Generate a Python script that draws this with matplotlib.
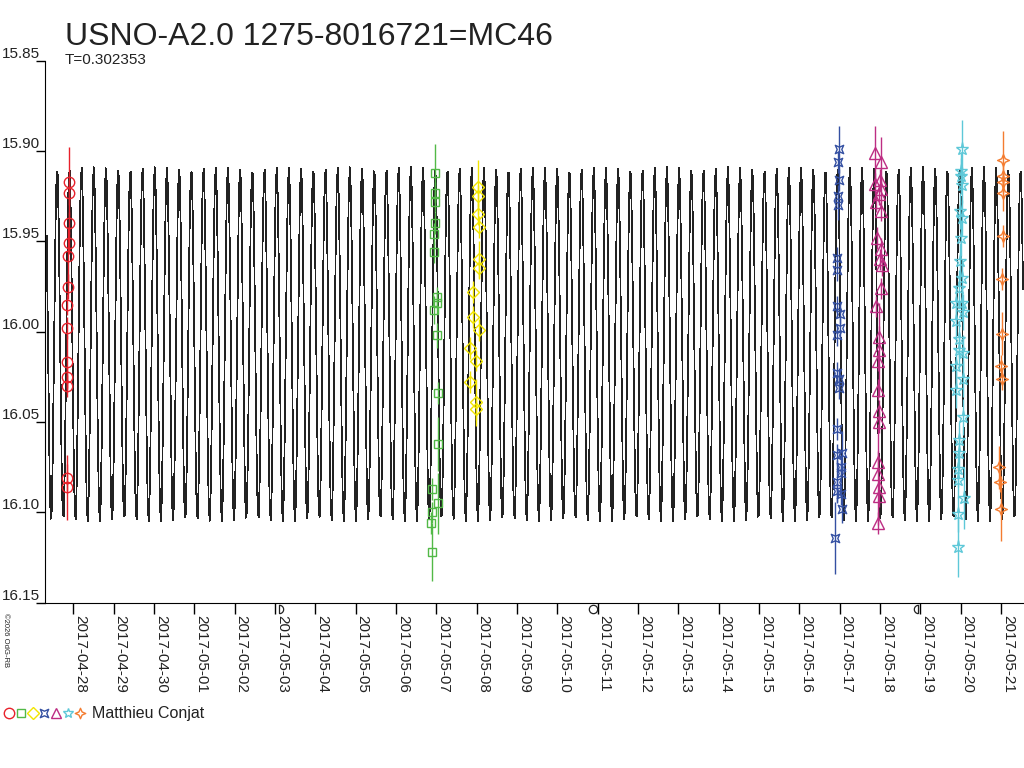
import numpy as np
import matplotlib
matplotlib.use('Agg')
import matplotlib.pyplot as plt
import matplotlib.dates as mdates
import matplotlib.transforms as mtransforms
from matplotlib.path import Path
from matplotlib.lines import Line2D
from datetime import datetime

plt.rcParams['font.family'] = ['Liberation Sans', 'DejaVu Sans']

title = 'USNO-A2.0 1275-8016721=MC46'
period = 0.302353
observer = 'Matthieu Conjat'
credit = '\u00a92026 OdG-RB'

# times are days from 2017-04-28 00:00 UT
base = mdates.date2num(datetime(2017, 4, 28))

# model light curve, parameters
mag_mean = 16.007
mag_amp = 0.098
t_max = -0.099
model_start, model_end, model_step = -0.66, 23.55, 0.0248

red_t = [-0.099, -0.099, -0.099, -0.099, -0.139, -0.139, -0.156, -0.156, -0.156, -0.164, -0.164, -0.164, -0.164]
red_mag = [15.917, 15.923, 15.940, 15.951, 15.958, 15.975, 15.985, 15.998, 16.017, 16.025, 16.030, 16.081, 16.086]
red_err = [0.019, 0.007, 0.006, 0.006, 0.016, 0.007, 0.006, 0.006, 0.015, 0.006, 0.006, 0.008, 0.018]

green_t = [8.969, 8.969, 8.969, 8.969, 8.936, 8.936, 9.011, 9.011, 8.944, 9.011, 9.036, 9.036, 8.887, 9.050, 8.887, 8.869, 8.887]
green_mag = [15.912, 15.923, 15.928, 15.940, 15.946, 15.956, 15.981, 15.984, 15.988, 16.002, 16.034, 16.062, 16.087, 16.095, 16.100, 16.106, 16.122]
green_err = [0.016, 0.006, 0.006, 0.006, 0.006, 0.006, 0.006, 0.006, 0.008, 0.007, 0.006, 0.015, 0.006, 0.017, 0.006, 0.006, 0.016]

yellow_t = [10.042, 10.042, 10.027, 10.059, 10.067, 10.067, 9.918, 9.918, 10.059, 9.844, 9.978, 9.836, 9.993, 9.993]
yellow_mag = [15.920, 15.925, 15.935, 15.942, 15.960, 15.965, 15.978, 15.992, 15.999, 16.009, 16.016, 16.028, 16.039, 16.043]
yellow_err = [0.015, 0.006, 0.006, 0.006, 0.010, 0.006, 0.006, 0.006, 0.006, 0.006, 0.006, 0.006, 0.013, 0.006]

blue_t = [18.986, 18.968, 18.986, 18.968, 18.968, 18.944, 18.929, 18.929, 19.011, 19.011, 18.929, 18.944,
          18.986, 18.986, 18.929, 19.068, 18.929, 19.028, 19.028, 18.929, 18.929, 19.028, 19.068, 18.887]
blue_mag = [15.899, 15.906, 15.916, 15.925, 15.930, 15.959, 15.966, 15.986, 15.990, 15.998, 16.002, 16.023,
            16.026, 16.031, 16.054, 16.067, 16.068, 16.075, 16.078, 16.083, 16.088, 16.090, 16.098, 16.114]
blue_err = [0.013, 0.006, 0.006, 0.006, 0.008, 0.006, 0.006, 0.006, 0.006, 0.006, 0.006, 0.006,
            0.006, 0.006, 0.006, 0.012, 0.006, 0.006, 0.006, 0.012, 0.006, 0.006, 0.008, 0.020]

magenta_t = [19.878, 20.020, 19.878, 20.002, 20.027, 19.985, 19.903, 20.027, 19.920, 20.020, 20.002, 20.045, 20.027,
             19.903, 19.985, 19.985, 19.945, 19.945, 19.985, 19.985, 19.960, 19.945, 19.978, 19.978, 19.960]
magenta_mag = [15.901, 15.906, 15.918, 15.916, 15.921, 15.924, 15.928, 15.933, 15.948, 15.954, 15.960, 15.963, 15.976,
               15.986, 16.003, 16.010, 16.016, 16.032, 16.044, 16.050, 16.072, 16.079, 16.086, 16.091, 16.106]
magenta_err = [0.015, 0.014, 0.006, 0.006, 0.006, 0.006, 0.006, 0.006, 0.006, 0.006, 0.006, 0.006, 0.006,
               0.006, 0.006, 0.026, 0.006, 0.006, 0.006, 0.006, 0.006, 0.028, 0.006, 0.006, 0.006]

cyan_t = [22.028, 22.003, 22.003, 22.028, 21.986, 22.028, 22.003, 21.986, 22.028, 21.969, 21.887, 22.043, 22.053, 21.887,
          21.969, 21.969, 22.053, 21.887, 22.068, 21.887, 22.068, 21.969, 21.969, 21.944, 21.944, 22.085, 21.944, 21.944]
cyan_mag = [15.899, 15.911, 15.914, 15.919, 15.933, 15.937, 15.948, 15.961, 15.970, 15.976, 15.984, 15.984, 15.989, 15.994,
            16.004, 16.010, 16.012, 16.019, 16.026, 16.032, 16.047, 16.060, 16.067, 16.076, 16.082, 16.092, 16.101, 16.119]
cyan_err = [0.016, 0.010, 0.010, 0.010, 0.010, 0.010, 0.010, 0.010, 0.010, 0.010, 0.010, 0.010, 0.010, 0.010,
            0.010, 0.010, 0.010, 0.010, 0.010, 0.010, 0.010, 0.010, 0.010, 0.010, 0.010, 0.017, 0.010, 0.017]

orange_t = [23.060, 23.060, 23.060, 23.060, 23.045, 23.020, 23.020, 23.003, 23.020, 22.961, 22.978, 22.995]
orange_mag = [15.905, 15.914, 15.917, 15.923, 15.947, 15.971, 16.001, 16.019, 16.026, 16.075, 16.083, 16.098]
orange_err = [0.016, 0.006, 0.006, 0.010, 0.006, 0.006, 0.012, 0.006, 0.006, 0.012, 0.006, 0.018]

# moon phases (first quarter, full, last quarter), days from 2017-04-28
moon_t = [5.11, 12.89, 20.95]

# marker shapes
concave_sq = Path([(-1, -1), (0, -0.55), (1, -1), (0.55, 0), (1, 1), (0, 0.55), (-1, 1), (-0.55, 0), (-1, -1)],
                  [1, 2, 2, 2, 2, 2, 2, 2, 79])
sparkle = Path([(0, 1), (0.3, 0.3), (1, 0), (0.3, -0.3), (0, -1), (-0.3, -0.3), (-1, 0), (-0.3, 0.3), (0, 1)],
               [1, 2, 2, 2, 2, 2, 2, 2, 79])
ang = np.linspace(-np.pi / 2, np.pi / 2, 20)
half_r = Path(np.column_stack([np.cos(ang), np.sin(ang)]).tolist() + [[0, -1]])
half_l = Path(np.column_stack([-np.cos(ang), np.sin(ang)]).tolist() + [[0, -1]])

nights = [
    (red_t, red_mag, red_err, '#e8212b', 'o', 7.5),
    (green_t, green_mag, green_err, '#52b947', 's', 5.5),
    (yellow_t, yellow_mag, yellow_err, '#f2e500', 'D', 6.0),
    (blue_t, blue_mag, blue_err, '#3450a2', concave_sq, 6.0),
    (magenta_t, magenta_mag, magenta_err, '#bd2d83', '^', 8.0),
    (cyan_t, cyan_mag, cyan_err, '#5ec8d8', '*', 9.5),
    (orange_t, orange_mag, orange_err, '#f47c30', sparkle, 8.5),
]

fig = plt.figure(figsize=(10.24, 7.68), dpi=100)
ax = fig.add_axes([45 / 1024, 1 - 602.7 / 768, 1 - 45 / 1024, (602.7 - 60.7) / 768])

tm = np.arange(model_start, model_end, model_step)
mm = mag_mean - mag_amp * np.cos(2 * np.pi * (tm - t_max) / period)
ax.plot(base + tm, mm, color='#222222', lw=0.55, antialiased=False, zorder=1)

for t, m, e, c, mk, ms in nights:
    x = base + np.array(t)
    ax.errorbar(x, m, yerr=e, fmt='none', ecolor=c, elinewidth=1, capsize=0, zorder=2)
    ax.plot(x, m, ls='none', marker=mk, ms=ms, mfc='none', mec=c, mew=1, zorder=3)

ax.set_ylim(16.15, 15.85)
ax.set_xlim(base - 0.702, base + 23.57)
ax.set_yticks([15.85, 15.90, 15.95, 16.00, 16.05, 16.10, 16.15])
ax.set_yticklabels(['%.2f' % v for v in [15.85, 15.90, 15.95, 16.00, 16.05, 16.10, 16.15]])
ax.xaxis.set_major_locator(mdates.DayLocator())
ax.xaxis.set_major_formatter(mdates.DateFormatter('%Y-%m-%d'))
ax.tick_params(axis='x', direction='out', length=8, width=1, pad=1, labelsize=11, labelcolor='#222222')
ax.tick_params(axis='y', direction='out', length=6.5, width=1, pad=-3, labelsize=11, labelcolor='#222222')
for lab in ax.get_xticklabels():
    lab.set_rotation(-90)
    lab.set_ha('left')
for lab in ax.get_yticklabels():
    lab.set_va('bottom')
for s in ['top', 'right']:
    ax.spines[s].set_visible(False)

trans = mtransforms.blended_transform_factory(ax.transData, ax.transAxes)
for t, mk in zip(moon_t, [half_r, 'o', half_l]):
    ax.plot(base + t, -0.011, marker=mk, ms=6, mfc='none', mec='#222222', mew=0.9,
            transform=trans, clip_on=False)

fig.text(65 / 1024, 1 - 45 / 768, title, fontsize=23, color='#222222', va='baseline', ha='left')
fig.text(65 / 1024, 1 - 64 / 768, 'T=%g' % period, fontsize=11, color='#222222', va='baseline', ha='left')
fig.text(0.002, 1 - 613 / 768, credit, fontsize=5.5, rotation=-90, va='top', ha='left', color='#222222')

leg_x = [9.3, 21, 33, 44.3, 56, 68.3, 80]
for lx, (t, m, e, c, mk, ms) in zip(leg_x, nights):
    fig.add_artist(Line2D([lx / 1024], [1 - 713.3 / 768], transform=fig.transFigure, ls='none',
                          marker=mk, ms=min(ms, 7.5), mfc='none', mec=c, mew=1))
fig.text(91.7 / 1024, 1 - 713.3 / 768, observer, fontsize=11.5, color='#222222', va='center', ha='left')

fig.savefig('out.png', dpi=100)
